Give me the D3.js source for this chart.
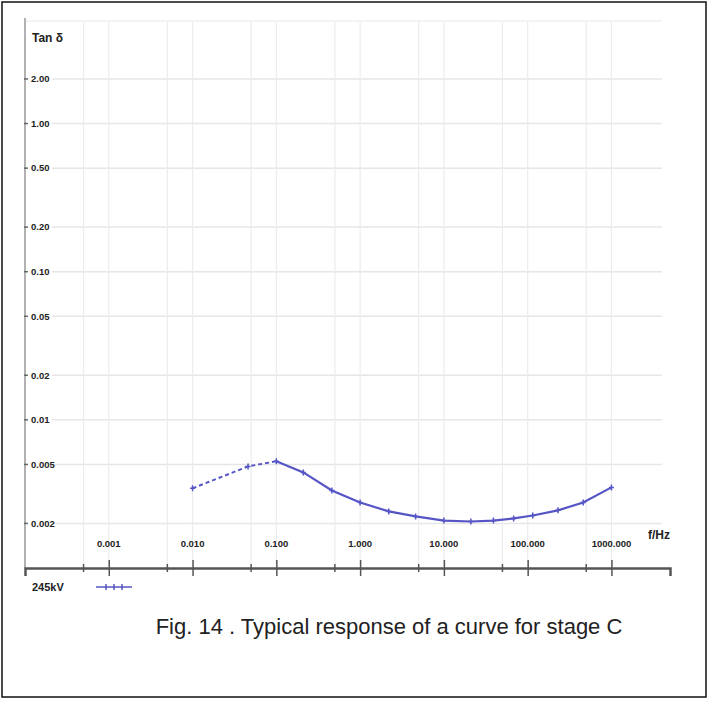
<!DOCTYPE html>
<html>
<head>
<meta charset="utf-8">
<script src="https://cdn.jsdelivr.net/npm/d3@7"></script>
<style>
  body { margin: 0; background: #fff; }
  .lbl { font-family: "Liberation Sans Narrow", "Liberation Sans", sans-serif; font-weight: bold; fill: #222; }
</style>
</head>
<body>
<div id="chart"></div>
<script>
// frequency (Hz) and tan delta
var freq  = [0.01, 0.046, 0.1, 0.21, 0.46, 1, 2.2, 4.6, 10, 21, 39, 68, 115, 230, 460, 1000];
var tanD  = [0.00345, 0.00485, 0.00525, 0.00442, 0.00334, 0.00277, 0.00241, 0.00223, 0.00209, 0.00206, 0.00209, 0.00216, 0.00226, 0.00245, 0.00277, 0.0035];
var dashedCount = 3; // first points drawn dashed

var yTicks = [2, 1, 0.5, 0.2, 0.1, 0.05, 0.02, 0.01, 0.005, 0.002];
var yTickLabels = ["2.00", "1.00", "0.50", "0.20", "0.10", "0.05", "0.02", "0.01", "0.005", "0.002"];
var xMajor = [0.001, 0.01, 0.1, 1, 10, 100, 1000];
var xMajorLabels = ["0.001", "0.010", "0.100", "1.000", "10.000", "100.000", "1000.000"];
var xMinor = [0.0005, 0.005, 0.05, 0.5, 5, 50, 500];

var width = 709, height = 701;
var lineColor = "#5555c6";

var svg = d3.select("#chart").append("svg")
  .attr("width", width)
  .attr("height", height);

// outer frame
svg.append("rect")
  .attr("x", 2).attr("y", 2)
  .attr("width", 704).attr("height", 695)
  .attr("fill", "none")
  .attr("stroke", "#111")
  .attr("stroke-width", 1.5);

var x = d3.scaleLog().domain([0.0001, 5000]).range([25, 670]);
var y = d3.scaleLog().domain([0.001, 5]).range([568, 20]);

// grid
svg.append("line")
  .attr("x1", 25).attr("x2", 662)
  .attr("y1", 21).attr("y2", 21)
  .attr("stroke", "#f0f0f0")
  .attr("stroke-width", 1.5);

svg.append("g")
  .selectAll("line")
  .data(yTicks)
  .enter()
  .append("line")
    .attr("x1", 52).attr("x2", 662)
    .attr("y1", d => y(d)).attr("y2", d => y(d))
    .attr("stroke", "#e6e6e6")
    .attr("stroke-width", 1.5);

svg.append("g")
  .selectAll("line")
  .data(xMajor.concat(xMinor))
  .enter()
  .append("line")
    .attr("x1", d => x(d)).attr("x2", d => x(d))
    .attr("y1", 22).attr("y2", 566)
    .attr("stroke", "#ececec")
    .attr("stroke-width", 1.2);

// y axis
svg.append("line")
  .attr("x1", 25).attr("x2", 25)
  .attr("y1", 18).attr("y2", 568)
  .attr("stroke", "#999")
  .attr("stroke-width", 1.5);

svg.append("g")
  .selectAll("line")
  .data(yTicks)
  .enter()
  .append("line")
    .attr("x1", 24).attr("x2", 28)
    .attr("y1", d => y(d)).attr("y2", d => y(d))
    .attr("stroke", "#666")
    .attr("stroke-width", 1.5);

svg.append("g")
  .selectAll("text")
  .data(yTicks)
  .enter()
  .append("text")
    .attr("class", "lbl")
    .attr("x", 31)
    .attr("y", d => y(d))
    .attr("dy", "0.35em")
    .style("font-size", "9.5px")
    .text((d, i) => yTickLabels[i]);

svg.append("text")
  .attr("class", "lbl")
  .attr("x", 32).attr("y", 42)
  .style("font-size", "12px")
  .text("Tan δ");

// x axis
var xAxis = d3.axisBottom(x)
  .tickValues(xMajor)
  .tickSize(8)
  .tickFormat("");

var gx = svg.append("g")
  .attr("transform", "translate(0,568)")
  .call(xAxis);
gx.select(".domain").attr("stroke", "#555").attr("stroke-width", 2.5);
gx.selectAll(".tick line").attr("stroke", "#555").attr("stroke-width", 1.5).attr("y1", -8);

svg.append("g")
  .selectAll("line")
  .data(xMinor)
  .enter()
  .append("line")
    .attr("x1", d => x(d)).attr("x2", d => x(d))
    .attr("y1", 564).attr("y2", 572)
    .attr("stroke", "#555")
    .attr("stroke-width", 1.5);

svg.append("g")
  .selectAll("text")
  .data(xMajor)
  .enter()
  .append("text")
    .attr("class", "lbl")
    .attr("x", d => x(d))
    .attr("y", 547)
    .attr("text-anchor", "middle")
    .style("font-size", "9.5px")
    .text((d, i) => xMajorLabels[i]);

svg.append("text")
  .attr("class", "lbl")
  .attr("x", 648).attr("y", 539)
  .style("font-size", "12px")
  .text("f/Hz");

// curve
var pts = freq.map((f, i) => [f, tanD[i]]);
var line = d3.line()
  .x(d => x(d[0]))
  .y(d => y(d[1]));

svg.append("path")
  .datum(pts.slice(0, dashedCount))
  .attr("d", line)
  .attr("fill", "none")
  .attr("stroke", lineColor)
  .attr("stroke-width", 2)
  .attr("stroke-dasharray", "4,3");

svg.append("path")
  .datum(pts.slice(dashedCount - 1))
  .attr("d", line)
  .attr("fill", "none")
  .attr("stroke", lineColor)
  .attr("stroke-width", 2.2);

svg.append("g")
  .selectAll("path")
  .data(pts)
  .enter()
  .append("path")
    .attr("d", d => "M" + x(d[0]) + "," + (y(d[1]) - 3) + "v6M" + (x(d[0]) - 2.5) + "," + y(d[1]) + "h5")
    .attr("stroke", lineColor)
    .attr("stroke-width", 1.5);

// legend
svg.append("text")
  .attr("class", "lbl")
  .attr("x", 32).attr("y", 591)
  .style("font-size", "11px")
  .text("245kV");

var legendX = [106, 114, 122];
svg.append("line")
  .attr("x1", 96).attr("x2", 132)
  .attr("y1", 587).attr("y2", 587)
  .attr("stroke", lineColor)
  .attr("stroke-width", 1.5);
svg.append("g")
  .selectAll("line")
  .data(legendX)
  .enter()
  .append("line")
    .attr("x1", d => d).attr("x2", d => d)
    .attr("y1", 584).attr("y2", 590)
    .attr("stroke", lineColor)
    .attr("stroke-width", 1.5);

// caption
svg.append("text")
  .attr("x", 389).attr("y", 634)
  .attr("text-anchor", "middle")
  .style("font-family", "Liberation Sans, Arial, sans-serif")
  .style("font-size", "22px")
  .style("fill", "#222")
  .text("Fig. 14 . Typical response of a curve for stage C");
</script>
</body>
</html>
